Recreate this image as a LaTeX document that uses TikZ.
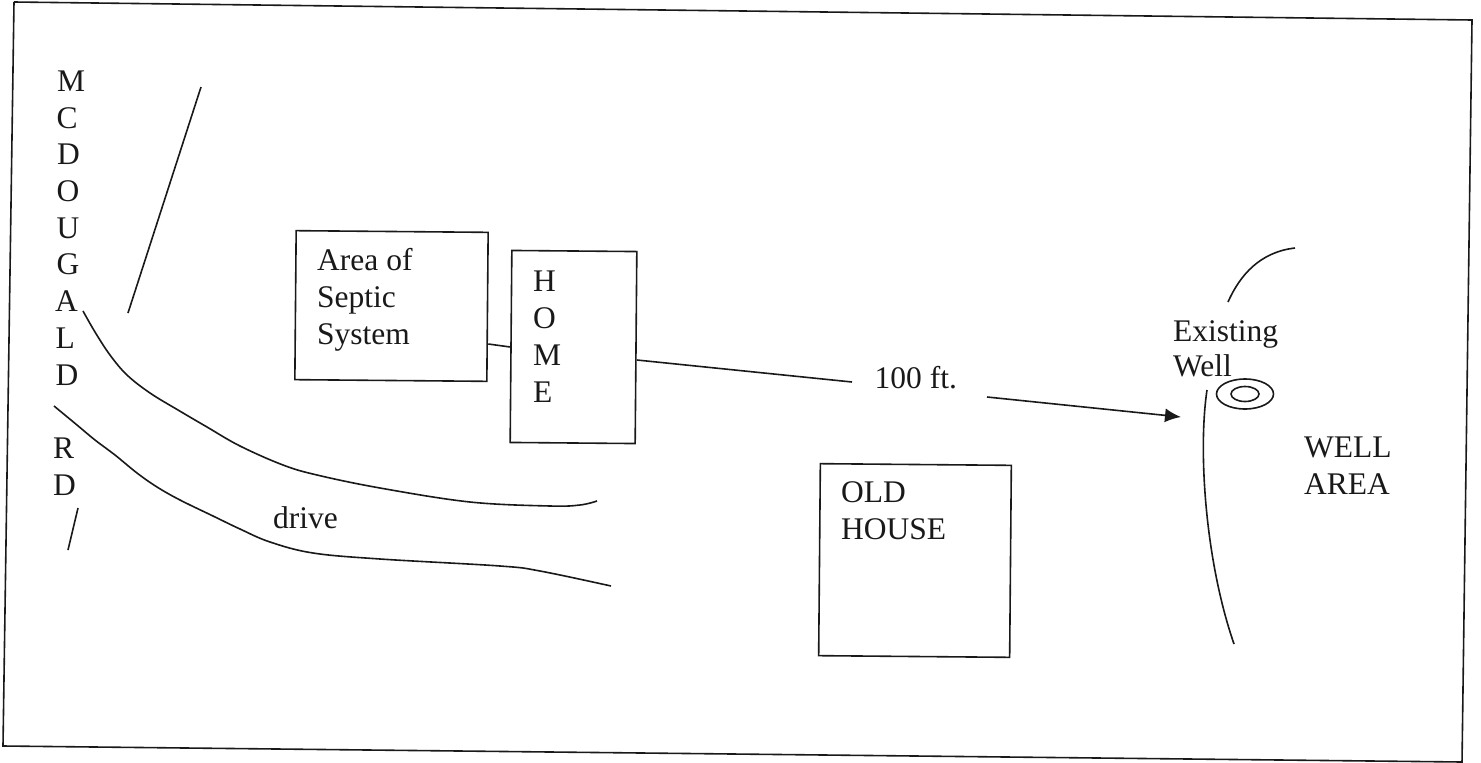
\documentclass[tikz,border=0pt]{standalone}
\usepackage{fontspec}
\setmainfont{Liberation Serif}
\usetikzlibrary{arrows.meta,shapes.geometric}
\tikzset{
 ink/.style={draw=black!90,line width=1.6pt},
 lab/.style={font=\fontsize{31.5pt}{37pt}\selectfont,text=black!90,inner sep=0pt},
 lbl/.style={lab,align=left,anchor=north west},
 let/.style={lab,anchor=base west},
 conn/.style={ink},
 boxed/.style={ink,inner sep=0pt,rotate=-0.5}
}
\begin{document}
\begin{tikzpicture}[x=1pt,y=-1pt]
\useasboundingbox (0,0) rectangle (1481,763);
\draw[ink] (14,2) -- (1472,20) -- (1462,763);
\draw[ink] (14,2) -- (3,746) -- (1462,762);
% road letters
\node[let] at (57,91) {M};
\node[let] at (56.5,128) {C};
\node[let] at (57,164) {D};
\node[let] at (56.5,201) {O};
\node[let] at (56.5,238) {U};
\node[let] at (56.5,274) {G};
\node[let] at (55,311) {A};
\node[let] at (55.5,348) {L};
\node[let] at (55.5,385) {D};
\node[let] at (53,458) {R};
\node[let] at (53,495) {D};
\coordinate (r1a) at (201,87); \coordinate (r1b) at (128,313);
\draw[ink] (r1a) -- (r1b);
\coordinate (r2a) at (78,508); \coordinate (r2b) at (68,550);
\draw[ink] (r2a) -- (r2b);
% drive
\draw[ink] plot[smooth,tension=0.6] coordinates {(83,311) (95,332) (110,355) (127,375) (150,393) (178,410) (207,427) (240,446) (283,465) (317,475) (380,488) (470,502) (550,506) (580,505) (597,501)};
\draw[ink] plot[smooth,tension=0.6] coordinates {(54,406) (77,425) (95,440) (115,455) (137,473) (157,487) (180,500) (213,516) (240,529) (270,542) (313,553) (380,559) (500,566) (540,571) (611,586)};
\node[let] at (273,528) {drive};
% boxes
\node[boxed,minimum width=192pt,minimum height=149pt] (septic) at (391.5,306) {};
\node[lbl] at (317,248.5) {Area of\\Septic\\System};
\node[boxed,minimum width=125pt,minimum height=192pt] (home) at (573.5,347) {};
\node[let] at (533,291) {H};
\node[let] at (533,328) {O};
\node[let] at (533,365) {M};
\node[let] at (533,402) {E};
\node[boxed,minimum width=191pt,minimum height=192pt] (old) at (915,560.5) {};
\node[lbl] at (841,481.7) {OLD\\HOUSE};
% connectors
\draw[conn] (septic.east |- 0,344) -- (home.west |- 0,347);
\node[let] (dist) at (874.5,388) {100 ft.};
\coordinate (arrowend) at (1181,417);
\draw[conn] (home.east |- 0,360) -- (852,382);
\draw[conn,-{Latex[length=16pt,width=14pt]}] (987,397) -- (arrowend);
% well area
\draw[ink] (1228,302) .. controls (1240,275) and (1260,252) .. (1295,248);
\draw[ink] (1207,390) .. controls (1198,450) and (1205,560) .. (1234,644);
\node[lbl,font=\fontsize{31.5pt}{35pt}\selectfont] at (1173,320.5) {Existing\\Well};
\node[ink,ellipse,minimum width=57pt,minimum height=30pt,inner sep=0pt] (wo) at (1245,394) {};
\node[ink,ellipse,minimum width=28pt,minimum height=15pt,inner sep=0pt] (wi) at (1245,394) {};
\node[lbl] at (1304,437) {WELL\\AREA};
\end{tikzpicture}
\end{document}
